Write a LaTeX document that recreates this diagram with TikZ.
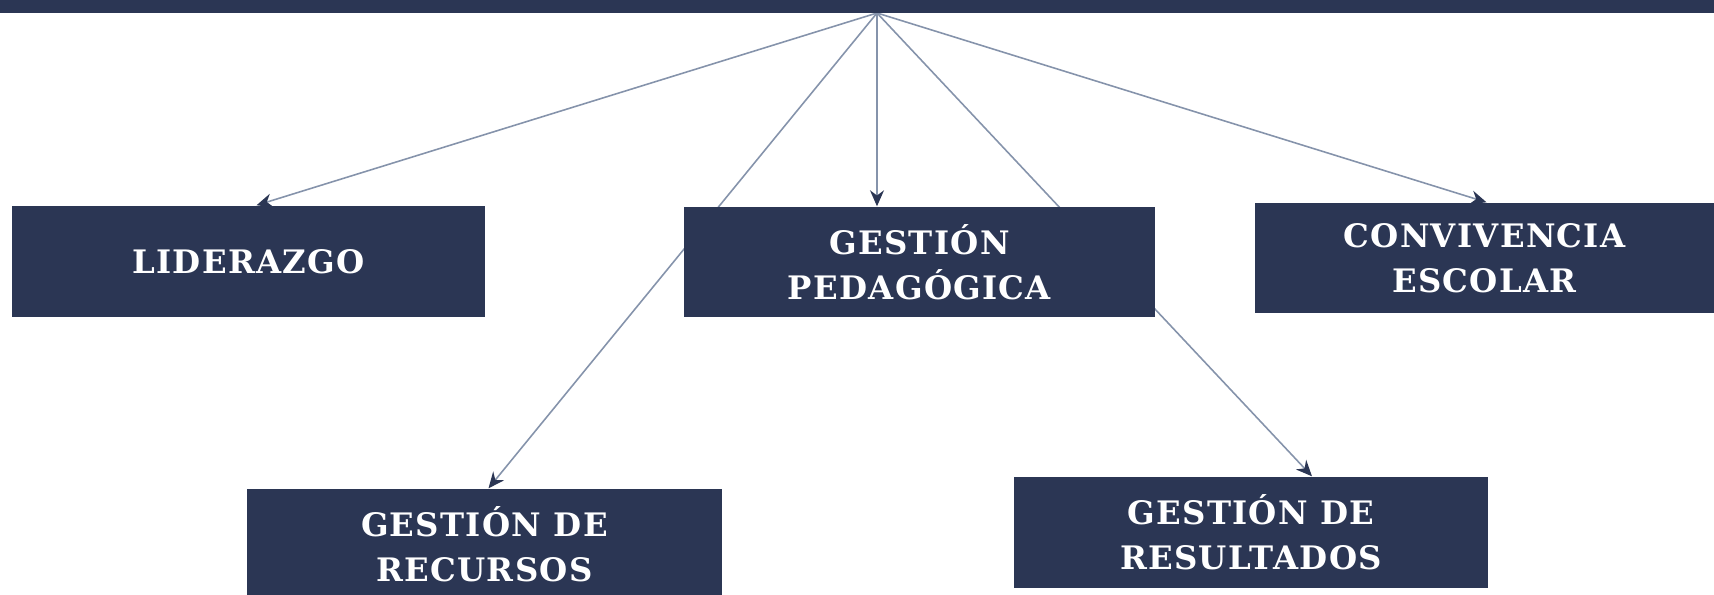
\documentclass[tikz,border=0pt]{standalone}
\usepackage{fontspec}
\setmainfont{DejaVu Serif}[LetterSpace=4]
\usetikzlibrary{arrows.meta}
\usetikzlibrary{backgrounds}

\definecolor{azul}{HTML}{2B3654}
\definecolor{linea}{HTML}{8593AB}

\tikzset{
    area/.style={fill=azul, text=white, align=center, inner sep=0pt,
        font=\bfseries\fontsize{9.2}{12.8}\selectfont},
    flecha/.style={draw=linea, line width=0.45pt,
        -{Stealth[length=1.6mm, width=1.4mm, color=azul]}},
}

\begin{document}
\begin{tikzpicture}
    \useasboundingbox (0,0) rectangle (17.14,5.94);
    \clip (0,0) rectangle (17.14,5.94);

    \node[area, minimum width=17.14cm, minimum height=0.13cm] (barra) at (8.57,5.875) {};
    \coordinate (vertice) at (8.77,5.81);

    \node[area, minimum width=4.73cm, minimum height=1.11cm] (liderazgo) at (2.485,3.325) {LIDERAZGO};
    \node[area, minimum width=4.71cm, minimum height=1.10cm] (pedagogica) at (9.195,3.32) {GESTIÓN\\PEDAGÓGICA};
    \node[area, minimum width=4.59cm, minimum height=1.10cm] (convivencia) at (14.845,3.36) {CONVIVENCIA\\ESCOLAR};
    \node[area, minimum width=4.75cm, minimum height=1.10cm] (recursos) at (4.845,0.50) {GESTIÓN DE\\RECURSOS};
    \node[area, minimum width=4.74cm, minimum height=1.11cm] (resultados) at (12.51,0.615) {GESTIÓN DE\\RESULTADOS};

    \begin{scope}[on background layer]
        \draw[flecha] (vertice) -- ([xshift=0.08cm]liderazgo.north);
        \draw[flecha] (vertice) -- (vertice |- pedagogica.north);
        \draw[flecha] (vertice) -- ([xshift=0.02cm]convivencia.north);
        \draw[flecha] (vertice) -- ([xshift=0.04cm]recursos.north);
        \draw[flecha] (vertice) -- ([xshift=0.61cm]resultados.north);
    \end{scope}
\end{tikzpicture}
\end{document}
